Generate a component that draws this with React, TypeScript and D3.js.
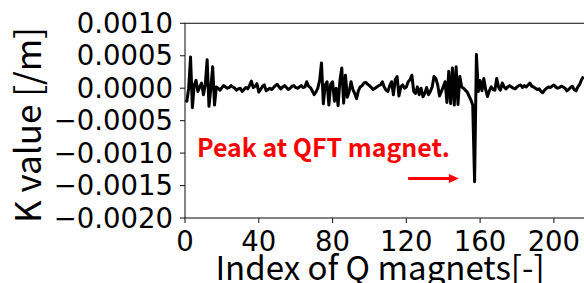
import React, { useRef, useEffect } from 'react';
import * as d3 from 'd3';

// K value per Q magnet (index 0..216)
const kValues: number[] = [
  -0.00018, -0.00020, 0.00000, 0.00048, -0.00030, 0.00005, 0.00012, -0.00005, 0.00002, 0.00008,
  -0.00010, 0.00005, 0.00044, -0.00028, 0.00000, 0.00033, -0.00026, 0.00002, 0.00000, -0.00003,
  0.00001, 0.00004, 0.00002, 0.00000, 0.00001, 0.00004, 0.00002, 0.00000, -0.00003, -0.00001,
  0.00000, -0.00005, -0.00002, 0.00001, -0.00001, 0.00004, 0.00011, 0.00001, 0.00003, 0.00007,
  -0.00006, -0.00002, 0.00003, 0.00005, -0.00004, -0.00002, 0.00000, -0.00002, 0.00001, 0.00004,
  0.00006, 0.00002, -0.00001, 0.00002, 0.00004, 0.00001, -0.00002, 0.00000, 0.00003, 0.00004,
  0.00001, 0.00000, 0.00002, 0.00004, 0.00001, 0.00002, 0.00010, 0.00003, 0.00001, -0.00004,
  -0.00010, -0.00006, 0.00000, 0.00012, 0.00039, -0.00024, 0.00005, 0.00010, -0.00026, 0.00006,
  0.00010, -0.00020, 0.00000, -0.00027, 0.00012, 0.00031, -0.00023, 0.00020, -0.00014, -0.00005,
  0.00010, -0.00002, -0.00008, -0.00016, -0.00004, 0.00002, 0.00004, 0.00008, 0.00009, 0.00006,
  0.00004, 0.00001, -0.00002, 0.00000, 0.00002, 0.00004, 0.00005, 0.00010, 0.00002, -0.00003,
  -0.00005, 0.00004, 0.00010, -0.00010, 0.00013, 0.00018, -0.00012, 0.00002, 0.00005, 0.00000,
  0.00002, 0.00010, 0.00013, 0.00020, -0.00005, -0.00008, 0.00002, -0.00010, 0.00000, -0.00013,
  -0.00008, 0.00001, -0.00010, -0.00005, 0.00002, 0.00018, 0.00015, 0.00005, -0.00012, -0.00005,
  0.00002, 0.00010, -0.00022, 0.00026, -0.00024, 0.00031, -0.00026, 0.00033, -0.00025, 0.00018,
  0.00002, 0.00000, -0.00003, -0.00006, -0.00012, -0.00018, -0.00026, -0.00144, 0.00052, -0.00005,
  0.00012, -0.00004, 0.00015, -0.00002, -0.00013, -0.00004, 0.00002, -0.00002, -0.00003, 0.00015,
  0.00002, -0.00003, 0.00008, 0.00002, -0.00001, 0.00002, 0.00004, 0.00002, 0.00000, -0.00001,
  0.00002, 0.00004, 0.00005, 0.00001, 0.00004, 0.00002, 0.00005, 0.00008, 0.00003, 0.00002,
  0.00000, -0.00002, -0.00001, -0.00005, -0.00007, -0.00003, 0.00000, 0.00002, 0.00001, 0.00003,
  0.00005, 0.00002, 0.00000, 0.00001, 0.00003, 0.00002, 0.00000, -0.00004, -0.00002, 0.00001,
  0.00003, -0.00002, -0.00004, 0.00002, 0.00006, 0.00013, 0.00018
];

const xTicks = [0, 40, 80, 120, 160, 200];
const yTicks = [0.001, 0.0005, 0, -0.0005, -0.001, -0.0015, -0.002];

const xLabel = 'Index of Q magnets[-]';
const yLabel = 'K value [/m]';
const noteText = 'Peak at QFT magnet.';
const notePos = [6.5, -0.00106];
const arrowFrom = [121, -0.00139];
const arrowTo = [148.5, -0.00139];

const W = 584;
const H = 283;

const App = () => {
  const ref = useRef<SVGSVGElement>(null);

  useEffect(() => {
    const svg = d3.select(ref.current);
    svg.selectAll('*').remove();

    const left = 185, top = 23.3, bottom = 218, right = 600;
    const x = d3.scaleLinear().domain([0, 225]).range([left, right]);
    const y = d3.scaleLinear().domain([-0.002, 0.001]).range([bottom, top]);

    const fmt = (v: number) => {
      const s = Math.abs(v).toFixed(4);
      return (v < 0 ? '\u2212' : '') + s;
    };

    // clip for plot area
    svg.append('defs').append('clipPath').attr('id', 'plotClip')
      .append('rect').attr('x', left).attr('y', top).attr('width', right - left).attr('height', bottom - top);

    // line
    const line = d3.line<number>().x((d, i) => x(i)).y(d => y(d));
    svg.append('path')
      .datum(kValues)
      .attr('clip-path', 'url(#plotClip)')
      .attr('fill', 'none')
      .attr('stroke', '#000')
      .attr('stroke-width', 3)
      .attr('stroke-linejoin', 'round')
      .attr('d', line);

    // spines
    svg.append('rect')
      .attr('x', left).attr('y', top).attr('width', right - left).attr('height', bottom - top)
      .attr('fill', 'none').attr('stroke', '#222').attr('stroke-width', 1.1);

    // y axis
    const yAxis = svg.append('g');
    yTicks.forEach(t => {
      yAxis.append('line').attr('x1', left - 5).attr('x2', left).attr('y1', y(t)).attr('y2', y(t))
        .attr('stroke', '#222').attr('stroke-width', 1.1);
      yAxis.append('text').attr('x', left - 12).attr('y', y(t)).attr('dy', '0.35em')
        .attr('text-anchor', 'end')
        .style('font-family', 'DejaVu Sans').style('font-size', '27.5px').attr('fill', '#000')
        .text(fmt(t));
    });

    // x axis
    const xAxis = svg.append('g');
    xTicks.forEach(t => {
      xAxis.append('line').attr('x1', x(t)).attr('x2', x(t)).attr('y1', bottom).attr('y2', bottom + 5)
        .attr('stroke', '#222').attr('stroke-width', 1.1);
      xAxis.append('text').attr('x', x(t)).attr('y', 250.5)
        .attr('text-anchor', 'middle')
        .style('font-family', 'DejaVu Sans').style('font-size', '27.5px').attr('fill', '#000')
        .text(String(t));
    });

    // axis labels
    svg.append('text').attr('x', 380).attr('y', 280).attr('text-anchor', 'middle')
      .style('font-family', 'Noto Sans CJK JP').style('font-size', '33px').attr('fill', '#000')
      .text(xLabel);
    svg.append('text').attr('transform', 'translate(41,125) rotate(-90)').attr('text-anchor', 'middle')
      .style('font-family', 'Noto Sans CJK JP').style('font-size', '35px').attr('fill', '#000')
      .text(yLabel);

    // annotation
    svg.append('text').attr('x', x(notePos[0])).attr('y', y(notePos[1]))
      .style('font-family', 'Noto Sans CJK JP').style('font-weight', 700).style('font-size', '24.9px')
      .attr('fill', '#ff0000')
      .text(noteText);

    const ax0 = x(arrowFrom[0]), ay0 = y(arrowFrom[1]);
    const ax1 = x(arrowTo[0]), ay1 = y(arrowTo[1]);
    svg.append('line').attr('x1', ax0).attr('y1', ay0).attr('x2', ax1 - 8).attr('y2', ay1)
      .attr('stroke', '#ff0000').attr('stroke-width', 3);
    svg.append('path')
      .attr('d', `M${ax1},${ay1} L${ax1 - 10},${ay1 - 4.5} L${ax1 - 10},${ay1 + 4.5} Z`)
      .attr('fill', '#ff0000');
  }, []);

  return (
    <svg ref={ref} width={W} height={H}
      style={{ position: 'absolute', left: 0, top: 0, background: '#fff', overflow: 'hidden' }} />
  );
};

export default App;
